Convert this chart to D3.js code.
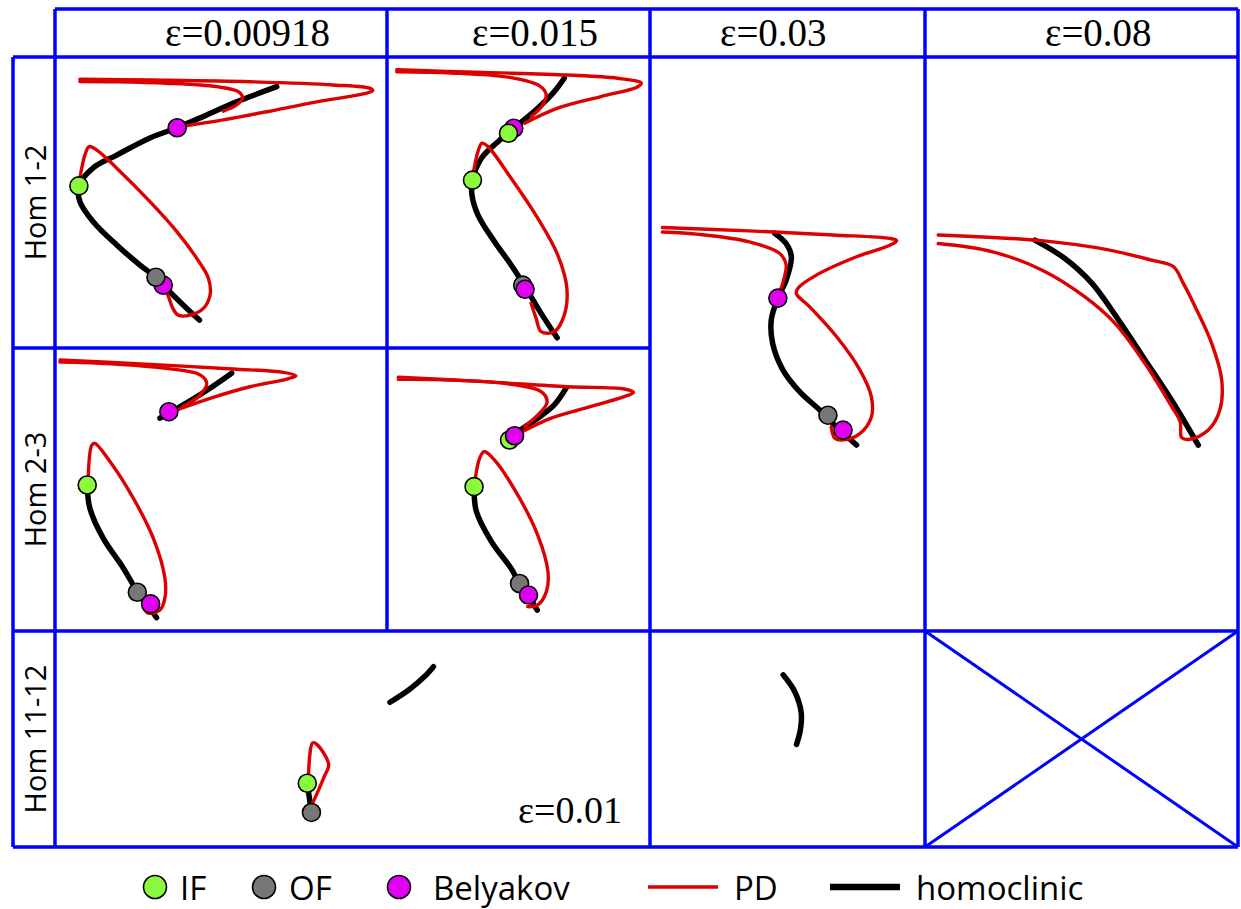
<!DOCTYPE html>
<meta charset="utf-8">
<style>
body { margin: 0; background: #fff; }
.grid line { stroke: #0000ff; stroke-width: 3.5; }
.hom { fill: none; stroke: #000; stroke-width: 5.5; stroke-linecap: round; }
.pd { fill: none; stroke: #dd0000; stroke-width: 3.4; stroke-linecap: round; }
.pt { stroke: #000; stroke-width: 1.6; }
</style>
<svg width="1241" height="909"></svg>
<script src="https://d3js.org/d3.v7.min.js"></script>
<script>

var svg = d3.select("svg");

// titres
var headerLabels = ["ε=0.00918", "ε=0.015", "ε=0.03", "ε=0.08"];
var rowLabels = ["Hom 1-2", "Hom 2-3", "Hom 11-12"];
var legendMarkers = ["IF", "OF", "Belyakov"];
var legendLines = ["PD", "homoclinic"];

// curves, each panel in its own 0-100 units (x right, y down)
var p11Hom = [[[66.8,10.2],[54.7,15.4],[45.7,19.9],[36.8,24.3],[28.6,27.8],[18.6,33.7],[11.5,38.1],[7.2,44.3],[7.5,49.7],[11.5,56.6],[18.6,64.6],[25.6,71.5],[30.4,75.7],[32.6,78.4],[38.6,85.2],[43.5,90.4]]];
var p11PD = [
  [[50.7,18.6],[54.7,16.5],[56.5,14.0],[55.2,11.9],[48.7,10.2],[33.6,9.0],[18.6,8.5],[7.5,8.4]],
  [[7.5,7.6],[28.6,7.9],[58.7,8.5],[83.8,9.6],[94.9,10.8],[95.7,11.6],[92.9,12.7],[78.8,15.4],[63.8,18.8],[50.7,21.6],[39.7,23.6]],
  [[7.5,41.7],[9.0,33.7],[10.3,30.8],[12.6,32.0],[18.6,38.2],[28.6,49.7],[36.7,60.0],[42.7,69.2],[46.2,76.0],[46.7,81.8],[44.7,86.4],[40.7,88.7],[37.1,88.7],[35.5,86.4],[34.4,83.0],[33.1,79.5]]
];
var p11Pts = [["Belyakov",36.8,24.3],["IF",7.2,44.3],["Belyakov",32.6,78.4],["OF",30.4,75.7]];

var p12Hom = [[[67.4,7.3],[63.6,11.9],[57.3,17.6],[49.7,23.4],[42.2,29.1],[35.9,34.8],[32.5,42.3],[32.3,47.4],[34.6,54.3],[40.9,63.5],[47.2,71.5],[52.9,79.5],[58.6,88.1],[64.7,96.5]]];
var p12PD = [
  [[54.8,20.5],[59.2,16.5],[60.5,12.8],[58.0,9.9],[47.2,7.1],[24.5,5.5],[3.7,5.1]],
  [[3.7,4.4],[37.1,5.3],[68.7,6.2],[87.6,7.3],[96.7,9.0],[95.2,10.3],[81.3,13.6],[64.9,17.6],[52.3,22.8]],
  [[32.7,40.5],[34.6,32.5],[36.1,29.6],[38.4,30.8],[47.2,41.7],[57.3,55.4],[64.9,68.0],[68.4,79.5],[67.4,88.7],[63.6,94.4],[58.6,94.4],[56.7,89.8],[54.8,84.6]]
];
var p12Pts = [["Belyakov",48.2,24.5],["IF",46.2,26.2],["IF",32.5,42.3],["OF",51.6,78.4],["Belyakov",52.5,79.8]];

var p21Hom = [
  [[53.2,8.9],[46.7,14.2],[38.6,20.1],[31.6,24.8]],
  [[9.7,48.4],[10.5,56.6],[14.5,67.2],[20.6,77.8],[24.8,86.1],[28.6,92.0],[30.6,95.3]]
];
var p21PD = [
  [[38.6,20.7],[43.7,16.6],[45.7,12.5],[43.7,9.5],[33.6,7.2],[13.6,5.4],[1.5,5.0]],
  [[1.5,4.2],[28.6,5.8],[53.7,7.4],[68.8,8.6],[72.6,9.8],[69.8,11.0],[58.7,13.7],[46.7,17.8],[36.7,21.9]],
  [[10.0,46.0],[11.1,34.3],[12.0,33.7],[16.6,40.2],[23.6,53.1],[29.6,67.2],[33.1,81.3],[33.1,88.4],[31.6,92.6],[28.1,93.7],[26.8,92.0]]
];
var p21Pts = [["Belyakov",34.3,22.5],["IF",9.7,48.4],["OF",24.8,86.3],["Belyakov",28.8,90.4]];

var p22Hom = [
  [[68.1,14.2],[63.6,20.1],[57.3,24.8],[49.7,29.6],[45.9,32.5]],
  [[33.1,49.0],[34.0,57.8],[39.7,68.4],[47.2,77.9],[50.4,83.2],[53.5,87.3],[57.1,92.6]]
];
var p22PD = [
  [[52.3,27.8],[58.6,22.5],[60.9,19.0],[58.6,15.4],[47.2,12.8],[24.5,11.3],[4.3,11.1]],
  [[4.3,10.3],[37.1,11.9],[68.7,13.7],[90.2,14.5],[93.7,15.7],[90.2,17.2],[75.0,21.3],[62.4,24.8],[51.0,29.8]],
  [[33.6,46.0],[35.2,39.0],[36.9,36.6],[40.9,39.6],[49.7,51.9],[57.3,66.1],[61.2,79.0],[60.6,86.1],[57.3,90.8],[53.5,91.4]]
];
var p22Pts = [["IF",46.6,32.5],["Belyakov",48.5,31.0],["IF",33.1,49.0],["OF",50.4,83.2],["Belyakov",53.8,87.3]];

var p3Hom = [[[45.3,30.7],[49.5,32.5],[51.4,34.8],[49.5,38.9],[46.5,42.0],[44.1,45.8],[44.6,49.9],[48.3,54.5],[54.4,58.3],[61.7,61.5],[67.8,64.4],[75.1,67.6]]];
var p3PD = [
  [[47.1,41.2],[48.9,38.3],[49.5,36.2],[47.1,34.2],[36.1,32.2],[17.9,30.9],[4.5,30.5]],
  [[4.5,29.7],[36.1,30.3],[66.5,31.0],[87.2,31.6],[89.7,32.0],[87.2,32.8],[75.1,34.8],[60.5,38.0],[53.8,40.3],[53.2,41.2],[58.0,43.5],[67.8,48.7],[76.3,54.5],[80.5,59.2],[80.5,62.7],[76.3,65.6],[70.2,66.7],[67.2,66.4],[65.9,64.4]]
];
var p3Pts = [["Belyakov",46.5,42.0],["OF",64.7,62.4],["Belyakov",70.2,65.0]];

var p4Hom = [[[35.1,31.9],[44.7,35.1],[53.3,39.4],[61.8,45.8],[70.3,52.8],[78.8,59.8],[87.3,67.6]]];
var p4PD = [[[4.2,32.5],[21.3,33.9],[37.3,37.1],[51.1,41.8],[60.7,46.4],[70.3,53.4],[78.8,60.9],[81.5,63.5],[82.0,66.3],[84.7,66.6],[90.5,65.0],[94.2,61.5],[94.8,56.3],[91.6,49.9],[86.3,43.5],[82.5,39.4],[79.3,36.5],[72.4,35.4],[58.6,33.6],[37.3,32.0],[4.2,31.0]]];

var p5Hom = [
  [[56.3,33.0],[59.5,27.2],[62.1,21.1],[63.6,16.5]],
  [[42.4,70.5],[43.1,84.0]]
];
var p5PD = [[[42.6,67.0],[43.3,51.8],[44.0,52.5],[46.0,61.8],[45.3,67.1],[44.1,74.8],[43.2,80.2]]];
var p5Pts = [["IF",42.4,70.5],["OF",43.1,84.0]];

var p6Hom = [[[48.4,20.3],[52.6,28.0],[55.0,37.9],[54.7,45.6],[53.3,52.5]]];

// mise en page
var colX = [55, 387, 650, 925, 1238],
    rowY = [9, 57, 348, 631, 847],
    leftX = 13;

var panels = [
  {c: [0,1], r: [1,2], hom: p11Hom, pd: p11PD, pts: p11Pts},
  {c: [1,2], r: [1,2], hom: p12Hom, pd: p12PD, pts: p12Pts},
  {c: [0,1], r: [2,3], hom: p21Hom, pd: p21PD, pts: p21Pts},
  {c: [1,2], r: [2,3], hom: p22Hom, pd: p22PD, pts: p22Pts},
  {c: [2,3], r: [1,3], hom: p3Hom, pd: p3PD, pts: p3Pts},
  {c: [3,4], r: [1,3], hom: p4Hom, pd: p4PD, pts: []},
  {c: [0,2], r: [3,4], hom: p5Hom, pd: p5PD, pts: p5Pts, note: "ε=0.01"},
  {c: [2,3], r: [3,4], hom: p6Hom, pd: [], pts: []},
  {c: [3,4], r: [3,4], hom: [], pd: [], pts: [], cross: true}
];

var ptColor = d3.scaleOrdinal()
    .domain(legendMarkers)
    .range(["#8cfa3c", "#777777", "#e000f2"]);

// grid lines
var gridSegs = [
  [colX[0], rowY[0], colX[4], rowY[0]],
  [leftX, rowY[1], colX[4], rowY[1]],
  [leftX, rowY[2], colX[2], rowY[2]],
  [leftX, rowY[3], colX[4], rowY[3]],
  [leftX, rowY[4], colX[4], rowY[4]],
  [leftX, rowY[1], leftX, rowY[4]],
  [colX[0], rowY[0], colX[0], rowY[4]],
  [colX[1], rowY[0], colX[1], rowY[3]],
  [colX[2], rowY[0], colX[2], rowY[4]],
  [colX[3], rowY[0], colX[3], rowY[4]],
  [colX[4], rowY[0], colX[4], rowY[4]]
];

var grid = svg.append("g").attr("class", "grid");
grid.selectAll("line")
  .data(gridSegs)
  .enter().append("line")
    .attr("x1", d => d[0]).attr("y1", d => d[1])
    .attr("x2", d => d[2]).attr("y2", d => d[3]);

// header
var headerX = [165, 472, 720, 1045];
svg.append("g").selectAll("text")
  .data(headerLabels)
  .enter().append("text")
    .attr("x", (d, i) => headerX[i])
    .attr("y", 46)
    .style("font-family", "'Liberation Serif', serif")
    .style("font-size", "39px")
    .text(d => d);

// row labels
svg.append("g").selectAll("text")
  .data(rowLabels)
  .enter().append("text")
    .attr("transform", (d, i) => "translate(46," + (rowY[i+1] + rowY[i+2]) / 2 + ") rotate(-90)")
    .attr("text-anchor", "middle")
    .style("font-family", "'Open Sans', sans-serif")
    .style("font-size", "29px")
    .text(d => d);

var line = d3.line().curve(d3.curveCatmullRom.alpha(0.5));

panels.forEach(function(p) {
  var x = d3.scaleLinear().domain([0, 100]).range([colX[p.c[0]], colX[p.c[1]]]),
      y = d3.scaleLinear().domain([0, 100]).range([rowY[p.r[0]], rowY[p.r[1]]]);
  var g = svg.append("g");

  if (p.cross) {
    g.selectAll("line")
      .data([[0,0,100,100],[0,100,100,0]])
      .enter().append("line")
        .attr("x1", d => x(d[0])).attr("y1", d => y(d[1]))
        .attr("x2", d => x(d[2])).attr("y2", d => y(d[3]))
        .attr("stroke", "#0000ff").attr("stroke-width", 3);
  }

  g.selectAll("path.hom")
    .data(p.hom)
    .enter().append("path")
      .attr("class", "hom")
      .attr("d", d => line(d.map(q => [x(q[0]), y(q[1])])));

  g.selectAll("path.pd")
    .data(p.pd)
    .enter().append("path")
      .attr("class", "pd")
      .attr("d", d => line(d.map(q => [x(q[0]), y(q[1])])));

  g.selectAll("circle")
    .data(p.pts)
    .enter().append("circle")
      .attr("class", "pt")
      .attr("cx", d => x(d[1]))
      .attr("cy", d => y(d[2]))
      .attr("r", 9)
      .attr("fill", d => ptColor(d[0]));

  if (p.note) {
    g.append("text")
      .attr("x", x(100) - 28)
      .attr("y", y(100) - 24)
      .attr("text-anchor", "end")
      .style("font-family", "'Liberation Serif', serif")
      .style("font-size", "38px")
      .text(p.note);
  }
});

// legende
var legY = 887;
var markerX = [155, 264, 399];
var leg = svg.append("g")
    .style("font-family", "'Open Sans', sans-serif")
    .style("font-size", "33px");

var lm = leg.selectAll("g.m")
  .data(legendMarkers)
  .enter().append("g")
    .attr("transform", (d, i) => "translate(" + markerX[i] + "," + legY + ")");
lm.append("circle")
    .attr("class", "pt")
    .attr("r", 11.5)
    .attr("fill", d => ptColor(d));
lm.append("text")
    .attr("x", (d, i) => i == 2 ? 34 : 25)
    .attr("y", 13)
    .text(d => d);

var lineX = [648, 830];
var ll = leg.selectAll("g.l")
  .data(legendLines)
  .enter().append("g")
    .attr("transform", (d, i) => "translate(" + lineX[i] + "," + legY + ")");
ll.append("line")
    .attr("x1", 0).attr("x2", 70)
    .attr("stroke", (d, i) => i == 0 ? "#dd0000" : "#000")
    .attr("stroke-width", (d, i) => i == 0 ? 3.5 : 6.5);
ll.append("text")
    .attr("x", 86)
    .attr("y", 13)
    .text(d => d);

</script>
